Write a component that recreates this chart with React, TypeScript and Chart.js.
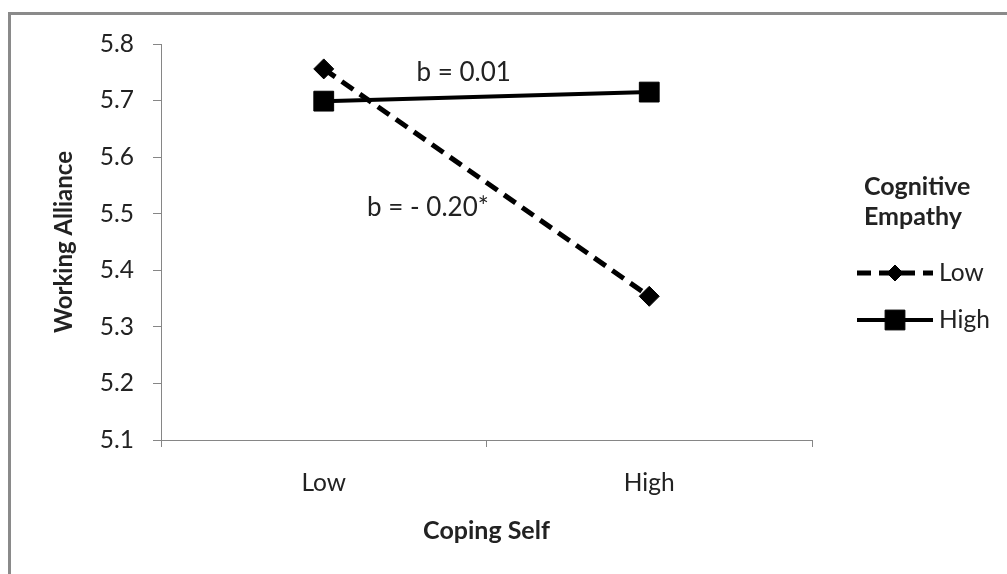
import React, { useEffect, useRef } from "react";
import { Chart, registerables } from "chart.js";

Chart.register(...registerables);

// ---- data ----
const categories: string[] = ["Low", "High"];
const lowEmpathy: number[] = [5.756, 5.354];
const highEmpathy: number[] = [5.699, 5.715];
const seriesNames: string[] = ["Low", "High"];
const yMin = 5.1;
const yMax = 5.8;
const yStep = 0.1;
const legendTitle: string[] = ["Cognitive", "Empathy"];
const annotationTexts: string[] = ["b = 0.01", "b = - 0.20*"];
const annotationX: number[] = [0.43, 0.32];
const annotationY: number[] = [5.749, 5.511];

const FONT = "Lato, 'Open Sans', sans-serif";
const TEXT = "#222";
const AXIS = "#868686";

function drawMarker(ctx: CanvasRenderingContext2D, style: string, x: number, y: number, r: number) {
  ctx.beginPath();
  if (style === "rectRot") {
    ctx.moveTo(x - r, y);
    ctx.lineTo(x, y - r);
    ctx.lineTo(x + r, y);
    ctx.lineTo(x, y + r);
    ctx.closePath();
  } else {
    const s = Math.SQRT1_2 * r;
    ctx.rect(x - s, y - s, 2 * s, 2 * s);
  }
  ctx.fill();
  ctx.stroke();
}

const annotationPlugin = {
  id: "annots",
  afterDatasetsDraw(chart: any) {
    const { ctx, scales } = chart;
    ctx.save();
    ctx.font = `26px ${FONT}`;
    ctx.fillStyle = TEXT;
    ctx.textAlign = "center";
    ctx.textBaseline = "middle";
    annotationTexts.forEach((t, i) => {
      ctx.fillText(t, scales.x.getPixelForValue(annotationX[i]), scales.y.getPixelForValue(annotationY[i]));
    });
    ctx.restore();
  },
};

const legendPlugin = {
  id: "customLegend",
  afterDraw(chart: any) {
    const { ctx } = chart;
    ctx.save();
    ctx.fillStyle = TEXT;
    ctx.textBaseline = "middle";
    ctx.textAlign = "left";
    ctx.font = `bold 25px ${FONT}`;
    legendTitle.forEach((t, i) => ctx.fillText(t, 853, 172 + i * 30));
    chart.data.datasets.forEach((ds: any, i: number) => {
      const y = 258 + i * 47;
      ctx.strokeStyle = ds.borderColor;
      ctx.lineWidth = ds.borderWidth;
      ctx.setLineDash(ds.borderDash || []);
      ctx.beginPath();
      ctx.moveTo(846, y);
      ctx.lineTo(922, y);
      ctx.stroke();
      ctx.setLineDash([]);
      ctx.fillStyle = ds.pointBackgroundColor;
      ctx.lineWidth = 1;
      drawMarker(ctx, ds.pointStyle, 884, y, ds.pointStyle === "rectRot" ? 8 : 14);
      ctx.fillStyle = TEXT;
      ctx.font = `24.5px ${FONT}`;
      ctx.fillText(ds.label, 928, y);
    });
    ctx.restore();
  },
};

export default function App() {
  const ref = useRef<HTMLCanvasElement>(null);
  useEffect(() => {
    if (!ref.current) return;
    Chart.defaults.font.family = FONT;
    Chart.defaults.color = TEXT;
    const chart = new Chart(ref.current, {
      type: "line",
      data: {
        labels: categories,
        datasets: [
          {
            label: seriesNames[0],
            data: lowEmpathy,
            borderColor: "#000",
            backgroundColor: "#000",
            borderWidth: 5,
            borderDash: [14, 8],
            pointStyle: "rectRot",
            pointRadius: 10,
            pointBackgroundColor: "#000",
            pointBorderColor: "#000",
            pointBorderWidth: 1,
            tension: 0,
          },
          {
            label: seriesNames[1],
            data: highEmpathy,
            borderColor: "#000",
            backgroundColor: "#000",
            borderWidth: 4,
            pointStyle: "rect",
            pointRadius: 14,
            pointBackgroundColor: "#000",
            pointBorderColor: "#000",
            pointBorderWidth: 1,
            tension: 0,
          },
        ],
      },
      options: {
        responsive: false,
        animation: false,
        layout: { padding: { top: 29, right: 195, left: 0, bottom: 0 } },
        plugins: { legend: { display: false }, tooltip: { enabled: false } },
        scales: {
          x: {
            type: "category",
            offset: true,
            grid: { offset: true, drawOnChartArea: false, drawTicks: true, tickLength: 7, color: AXIS },
            border: { color: AXIS, width: 1 },
            ticks: { padding: 21, font: { size: 24.5 }, color: TEXT },
            title: {
              display: true,
              text: "Coping Self",
              color: TEXT,
              font: { size: 25, weight: "bold" },
              padding: { top: 0, bottom: 28 },
            },
            afterFit: (s: any) => {
              s.height = 134;
            },
          },
          y: {
            min: yMin,
            max: yMax,
            ticks: {
              stepSize: yStep,
              padding: 19,
              font: { size: 24.5 },
              color: TEXT,
              callback: (v: any) => Number(v).toFixed(1),
            },
            grid: { drawOnChartArea: false, drawTicks: true, tickLength: 8, color: AXIS },
            border: { color: AXIS, width: 1 },
            title: {
              display: true,
              text: "Working Alliance",
              color: TEXT,
              font: { size: 24, weight: "bold" },
              padding: { top: 38.6, bottom: 0 },
            },
            afterFit: (s: any) => {
              s.width = 150;
              s.paddingTop = 0;
              s.paddingBottom = 0;
            },
          },
        },
      } as any,
      plugins: [annotationPlugin, legendPlugin],
    });
    return () => chart.destroy();
  }, []);

  return (
    <div
      style={{
        position: "absolute",
        left: 8,
        top: 12,
        width: 996,
        height: 559,
        borderTop: "3px solid #8a8a8a",
        borderLeft: "3px solid #8a8a8a",
        background: "#fff",
      }}
    >
      <canvas ref={ref} width={996} height={559} style={{ display: "block" }} />
    </div>
  );
}
